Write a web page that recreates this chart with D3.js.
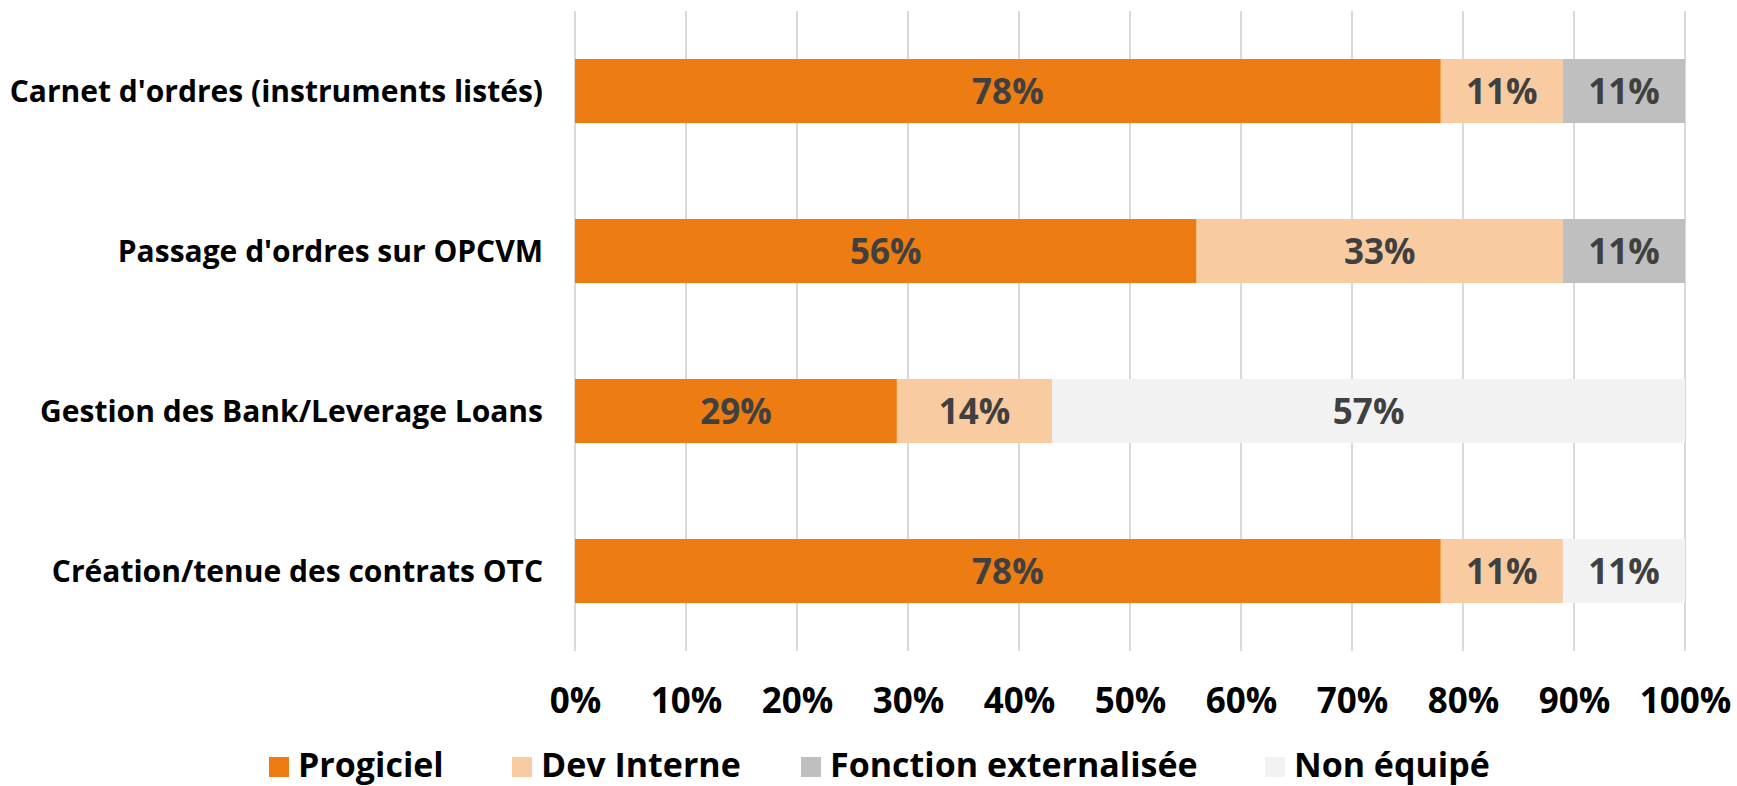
<!DOCTYPE html>
<html>
<head>
<meta charset="utf-8">
<script src="https://cdn.jsdelivr.net/npm/d3@7"></script>
<style>
  body { margin: 0; background: #fff; }
  svg { display: block; font-family: "Open Sans", "Noto Sans", sans-serif; font-weight: 700; }
</style>
</head>
<body>
<div id="chart"></div>
<script>
// categories, top to bottom
const categories = [
  "Carnet d'ordres (instruments listés)",
  "Passage d'ordres sur OPCVM",
  "Gestion des Bank/Leverage Loans",
  "Création/tenue des contrats OTC",
];
const seriesNames = ["Progiciel", "Dev Interne", "Fonction externalisée", "Non équipé"];
const progiciel = [78, 56, 29, 78];
const devInterne = [11, 33, 14, 11];
const externalisee = [11, 11, 0, 0];
const nonEquipe = [0, 0, 57, 11];
const tickValues = [0, 10, 20, 30, 40, 50, 60, 70, 80, 90, 100];

const colors = ["#ED7D12", "#F8CBA1", "#BFBFBF", "#F2F2F2"];
const fontFamily = '"Open Sans", "Noto Sans", sans-serif';

let width = 1737;
let height = 786;

const plotLeft = 575, plotRight = 1685, plotTop = 11, plotBottom = 651;

//build table for the stack
const table = categories.map((c, i) => ({
  cat: c,
  "Progiciel": progiciel[i],
  "Dev Interne": devInterne[i],
  "Fonction externalisée": externalisee[i],
  "Non équipé": nonEquipe[i],
}));

const svg = d3
  .select("#chart")
  .append("svg")
  .attr("width", width)
  .attr("height", height);

const x = d3.scaleLinear().domain([0, 100]).range([plotLeft, plotRight]);
const y = d3
  .scaleBand()
  .domain(categories)
  .range([plotTop, plotBottom])
  .paddingInner(0.6)
  .paddingOuter(0.3);

//gridlines
svg
  .append("g")
  .selectAll("line")
  .data(tickValues)
  .enter()
  .append("line")
  .attr("x1", (d) => x(d))
  .attr("x2", (d) => x(d))
  .attr("y1", plotTop)
  .attr("y2", plotBottom)
  .attr("stroke", "#D9D9D9")
  .attr("stroke-width", 2);

const stack = d3.stack().keys(seriesNames)(table);

const layers = svg
  .append("g")
  .selectAll("g")
  .data(stack)
  .enter()
  .append("g")
  .attr("fill", (d, i) => colors[i]);

layers
  .selectAll("rect")
  .data((d) => d)
  .enter()
  .append("rect")
  .attr("x", (d) => x(d[0]))
  .attr("y", (d) => y(d.data.cat))
  .attr("width", (d) => x(d[1]) - x(d[0]))
  .attr("height", y.bandwidth());

//data labels
layers
  .selectAll("text")
  .data((d) => d.filter((s) => s[1] - s[0] > 0))
  .enter()
  .append("text")
  .attr("x", (d) => (x(d[0]) + x(d[1])) / 2)
  .attr("y", (d) => y(d.data.cat) + y.bandwidth() / 2)
  .attr("dy", "0.36em")
  .attr("text-anchor", "middle")
  .attr("fill", "#404040")
  .style("font-size", "35px")
  .text((d) => `${d[1] - d[0]}%`);

//category axis
const yAxis = svg
  .append("g")
  .attr("transform", `translate(${plotLeft - 32},0)`)
  .call(d3.axisLeft(y).tickSize(0).tickPadding(0));
yAxis.select(".domain").remove();
yAxis
  .selectAll("text")
  .attr("fill", "#000")
  .attr("dy", "0.36em")
  .style("font-family", fontFamily)
  .style("font-weight", 700)
  .style("font-size", "30px");

//value axis
const xAxis = svg
  .append("g")
  .attr("transform", `translate(0,${plotBottom})`)
  .call(
    d3
      .axisBottom(x)
      .tickValues(tickValues)
      .tickFormat((d) => d + "%")
      .tickSize(0)
      .tickPadding(0)
  );
xAxis.select(".domain").remove();
xAxis
  .selectAll("text")
  .attr("fill", "#000")
  .attr("y", 62)
  .attr("dy", 0)
  .style("font-family", fontFamily)
  .style("font-weight", 700)
  .style("font-size", "35px");

//legend
const legendX = [269, 512, 801, 1265];
const legend = svg
  .append("g")
  .selectAll("g")
  .data(seriesNames)
  .enter()
  .append("g")
  .attr("transform", (d, i) => `translate(${legendX[i]},757)`);

legend
  .append("rect")
  .attr("width", 20)
  .attr("height", 20)
  .attr("fill", (d, i) => colors[i]);

legend
  .append("text")
  .attr("x", 29)
  .attr("y", 20)
  .attr("fill", "#000")
  .style("font-size", "34px")
  .text((d) => d);
</script>
</body>
</html>
